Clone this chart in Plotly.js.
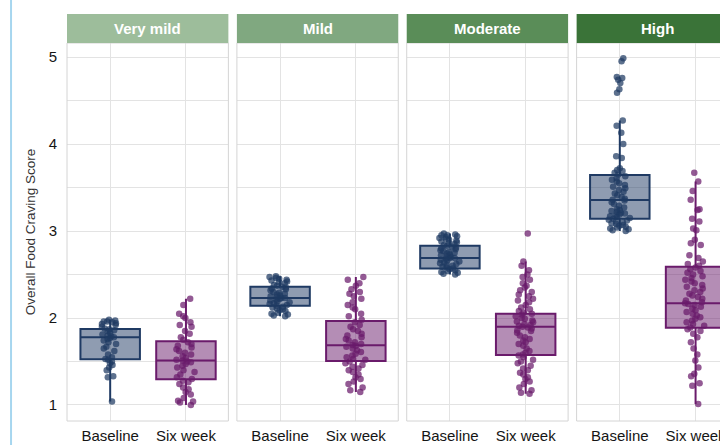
<!DOCTYPE html>
<html>
<head>
<meta charset="utf-8">
<script src="https://cdn.plot.ly/plotly-3.0.1.min.js"></script>
<style>
html,body{margin:0;padding:0;overflow:hidden;background:#fff;}
#chart{width:760px;height:445px;}
</style>
</head>
<body>
<div id="chart"></div>
<script>
// ---- data ----
const panels = ["Very mild", "Mild", "Moderate", "High"];
const timepoints = ["Baseline", "Six week"];

// box statistics per panel: [Baseline, Six week]
const q1 = [[1.525, 1.295], [2.14, 1.506], [2.57, 1.575], [3.14, 1.888]];
const medians = [[1.778, 1.51], [2.23, 1.686], [2.69, 1.90], [3.356, 2.17]];
const q3 = [[1.874, 1.732], [2.36, 1.966], [2.83, 2.05], [3.644, 2.59]];
const lowerWhisker = [[1.04, 1.00], [2.02, 1.15], [2.50, 1.13], [3.00, 1.01]];
const upperWhisker = [[1.98, 2.22], [2.48, 2.47], [2.97, 2.65], [4.27, 3.57]];

// individual scores
const veryMildBaseline = [1.98,1.97,1.96,1.96,1.95,1.94,1.93,1.92,1.90,1.88,1.87,1.86,1.85,1.83,1.81,1.80,1.79,1.78,1.77,1.76,1.74,1.72,1.70,1.67,1.65,1.62,1.58,1.55,1.53,1.52,1.50,1.48,1.46,1.43,1.40,1.33,1.32,1.04];
const veryMildSixWeek = [2.22,2.15,2.05,2.02,2.00,1.95,1.92,1.90,1.85,1.82,1.78,1.75,1.72,1.70,1.68,1.66,1.64,1.62,1.60,1.58,1.56,1.54,1.52,1.51,1.50,1.49,1.47,1.45,1.43,1.40,1.38,1.35,1.32,1.30,1.28,1.26,1.24,1.20,1.18,1.15,1.12,1.08,1.05,1.04,1.03,1.00];
const mildBaseline = [2.48,2.47,2.46,2.45,2.44,2.43,2.42,2.41,2.40,2.38,2.37,2.36,2.35,2.34,2.33,2.32,2.30,2.29,2.28,2.27,2.26,2.25,2.24,2.23,2.23,2.22,2.21,2.20,2.19,2.18,2.17,2.16,2.15,2.14,2.13,2.12,2.11,2.10,2.09,2.08,2.06,2.05,2.04,2.03,2.02];
const mildSixWeek = [2.47,2.44,2.40,2.37,2.33,2.30,2.28,2.25,2.22,2.18,2.15,2.12,2.10,2.05,2.02,1.98,1.95,1.92,1.90,1.87,1.85,1.82,1.80,1.78,1.76,1.74,1.72,1.70,1.69,1.68,1.67,1.65,1.63,1.61,1.59,1.57,1.55,1.53,1.52,1.50,1.48,1.46,1.44,1.42,1.40,1.38,1.35,1.32,1.30,1.27,1.24,1.20,1.17,1.15];
const moderateBaseline = [2.97,2.96,2.95,2.95,2.94,2.93,2.92,2.91,2.90,2.89,2.88,2.87,2.86,2.85,2.84,2.83,2.82,2.81,2.80,2.79,2.78,2.77,2.76,2.75,2.74,2.73,2.72,2.71,2.70,2.69,2.69,2.68,2.67,2.66,2.65,2.64,2.63,2.62,2.61,2.60,2.59,2.58,2.57,2.56,2.55,2.54,2.53,2.52,2.51,2.50];
const moderateSixWeek = [2.97,2.65,2.60,2.55,2.50,2.47,2.44,2.40,2.37,2.35,2.32,2.30,2.27,2.25,2.22,2.20,2.18,2.15,2.12,2.10,2.08,2.06,2.05,2.04,2.02,2.00,1.99,1.97,1.96,1.95,1.93,1.92,1.91,1.90,1.89,1.88,1.86,1.85,1.83,1.80,1.78,1.76,1.74,1.72,1.70,1.68,1.65,1.62,1.60,1.58,1.57,1.55,1.52,1.50,1.48,1.45,1.42,1.40,1.37,1.35,1.32,1.30,1.27,1.24,1.20,1.17,1.14,1.13];
const highBaseline = [4.985,4.95,4.77,4.76,4.74,4.70,4.63,4.59,4.27,4.21,4.13,4.00,3.86,3.84,3.72,3.70,3.69,3.67,3.65,3.63,3.61,3.59,3.57,3.55,3.53,3.51,3.49,3.47,3.45,3.43,3.41,3.39,3.37,3.36,3.35,3.33,3.31,3.29,3.27,3.25,3.24,3.23,3.22,3.21,3.20,3.19,3.18,3.17,3.16,3.15,3.14,3.13,3.12,3.11,3.10,3.09,3.08,3.07,3.06,3.05,3.04,3.03,3.02,3.01,3.00];
const highSixWeek = [3.67,3.57,3.46,3.36,3.25,3.24,3.14,3.11,3.03,3.01,2.90,2.86,2.84,2.72,2.69,2.65,2.62,2.60,2.58,2.56,2.54,2.52,2.50,2.48,2.46,2.44,2.42,2.40,2.38,2.36,2.34,2.32,2.30,2.28,2.26,2.24,2.22,2.20,2.18,2.17,2.16,2.15,2.13,2.11,2.09,2.07,2.05,2.03,2.01,1.99,1.97,1.95,1.93,1.91,1.89,1.87,1.85,1.82,1.78,1.72,1.65,1.58,1.51,1.43,1.36,1.33,1.25,1.22,1.01];

const scores = [
  [veryMildBaseline, veryMildSixWeek],
  [mildBaseline, mildSixWeek],
  [moderateBaseline, moderateSixWeek],
  [highBaseline, highSixWeek]
];

const yTicks = [1, 2, 3, 4, 5];
const yTitle = "Overall Food Craving Score";

// ---- styling ----
const lineColors = ["#1f3a63", "#6a1b6b"];
const fillColors = ["rgba(31,58,99,0.5)", "rgba(106,27,107,0.5)"];
const stripColors = ["#9dbd9b", "#80a880", "#5a8d58", "#3a7338"];
const domains = [[0, 0.2405], [0.2532, 0.4937], [0.5063, 0.7468], [0.7595, 1]];
const axisFont = {family: "Liberation Sans, Arial, sans-serif", size: 15, color: "#151515"};

const traces = [];
const layout = {
  width: 760, height: 445,
  margin: {l: 67, r: 21.5, t: 43, b: 24},
  paper_bgcolor: "#ffffff", plot_bgcolor: "#ffffff",
  showlegend: false,
  boxmode: "overlay",
  shapes: [], annotations: [],
  yaxis: {
    range: [0.816, 5.161], tickvals: yTicks, ticktext: yTicks.map(String),
    showgrid: true, gridcolor: "#e3e3e3", gridwidth: 1,
    minor: {dtick: 0.5, tick0: 0, showgrid: true, gridcolor: "#e3e3e3", gridwidth: 1},
    zeroline: false, showline: false,
    ticks: "outside", ticklen: 6, tickcolor: "rgba(0,0,0,0)",
    tickfont: axisFont, anchor: "x", automargin: false,
    title: {text: yTitle, font: {family: "Liberation Sans, Arial, sans-serif", size: 13.5, color: "#333"}, standoff: 9}
  }
};

panels.forEach((name, p) => {
  const xa = p === 0 ? "x" : "x" + (p + 1);
  const axKey = p === 0 ? "xaxis" : "xaxis" + (p + 1);
  layout[axKey] = {
    domain: domains[p], anchor: "y", type: "category",
    categoryorder: "array", categoryarray: timepoints,
    range: [-0.57, 1.56],
    showgrid: true, gridcolor: "#e3e3e3", gridwidth: 1,
    zeroline: false, showline: false,
    ticks: "outside", ticklen: 1, tickcolor: "rgba(0,0,0,0)",
    tickfont: axisFont, automargin: false
  };
  // boxes
  timepoints.forEach((tp, t) => {
    traces.push({
      type: "box", xaxis: xa, yaxis: "y",
      x: [tp], q1: [q1[p][t]], median: [medians[p][t]], q3: [q3[p][t]],
      lowerfence: [lowerWhisker[p][t]], upperfence: [upperWhisker[p][t]],
      boxpoints: false, width: 0.785,
      fillcolor: fillColors[t], line: {color: lineColors[t], width: 2},
      whiskerwidth: 0, hoverinfo: "skip"
    });
  });
  // jittered points
  timepoints.forEach((tp, t) => {
    const ys = scores[p][t];
    traces.push({
      type: "box", xaxis: xa, yaxis: "y",
      x: ys.map(() => tp), y: ys,
      boxpoints: "all", jitter: 0.38, pointpos: 0, width: 0.785,
      fillcolor: "rgba(0,0,0,0)", line: {color: "rgba(0,0,0,0)", width: 0},
      marker: {color: lineColors[t], size: 6.5, opacity: 0.72},
      whiskerwidth: 0, hoverinfo: "y"
    });
  });
  // panel frame
  layout.shapes.push({
    type: "rect", xref: xa + " domain", yref: "y domain",
    x0: 0, x1: 1, y0: 0, y1: 1, line: {color: "#d4d4d4", width: 1}, layer: "above"
  });
  // strip
  layout.shapes.push({
    type: "rect", xref: xa + " domain", yref: "y domain",
    x0: 0, x1: 1, y0: 1, y1: 1.0767, fillcolor: stripColors[p], line: {width: 0}
  });
  layout.annotations.push({
    text: "<b>" + name + "</b>", xref: xa + " domain", yref: "y domain",
    x: 0.5, y: 1.0384, xanchor: "center", yanchor: "middle", showarrow: false,
    font: {family: "Liberation Sans, Arial, sans-serif", size: 15, color: "#ffffff"}
  });
});

// light blue frame edge on the left
layout.shapes.push({
  type: "line", xref: "paper", yref: "paper",
  x0: -0.0834, x1: -0.0834, y0: -0.07, y1: 1.12,
  line: {color: "#a6d6ef", width: 2}
});

Plotly.newPlot("chart", traces, layout, {displayModeBar: false, staticPlot: true});
</script>
</body>
</html>
